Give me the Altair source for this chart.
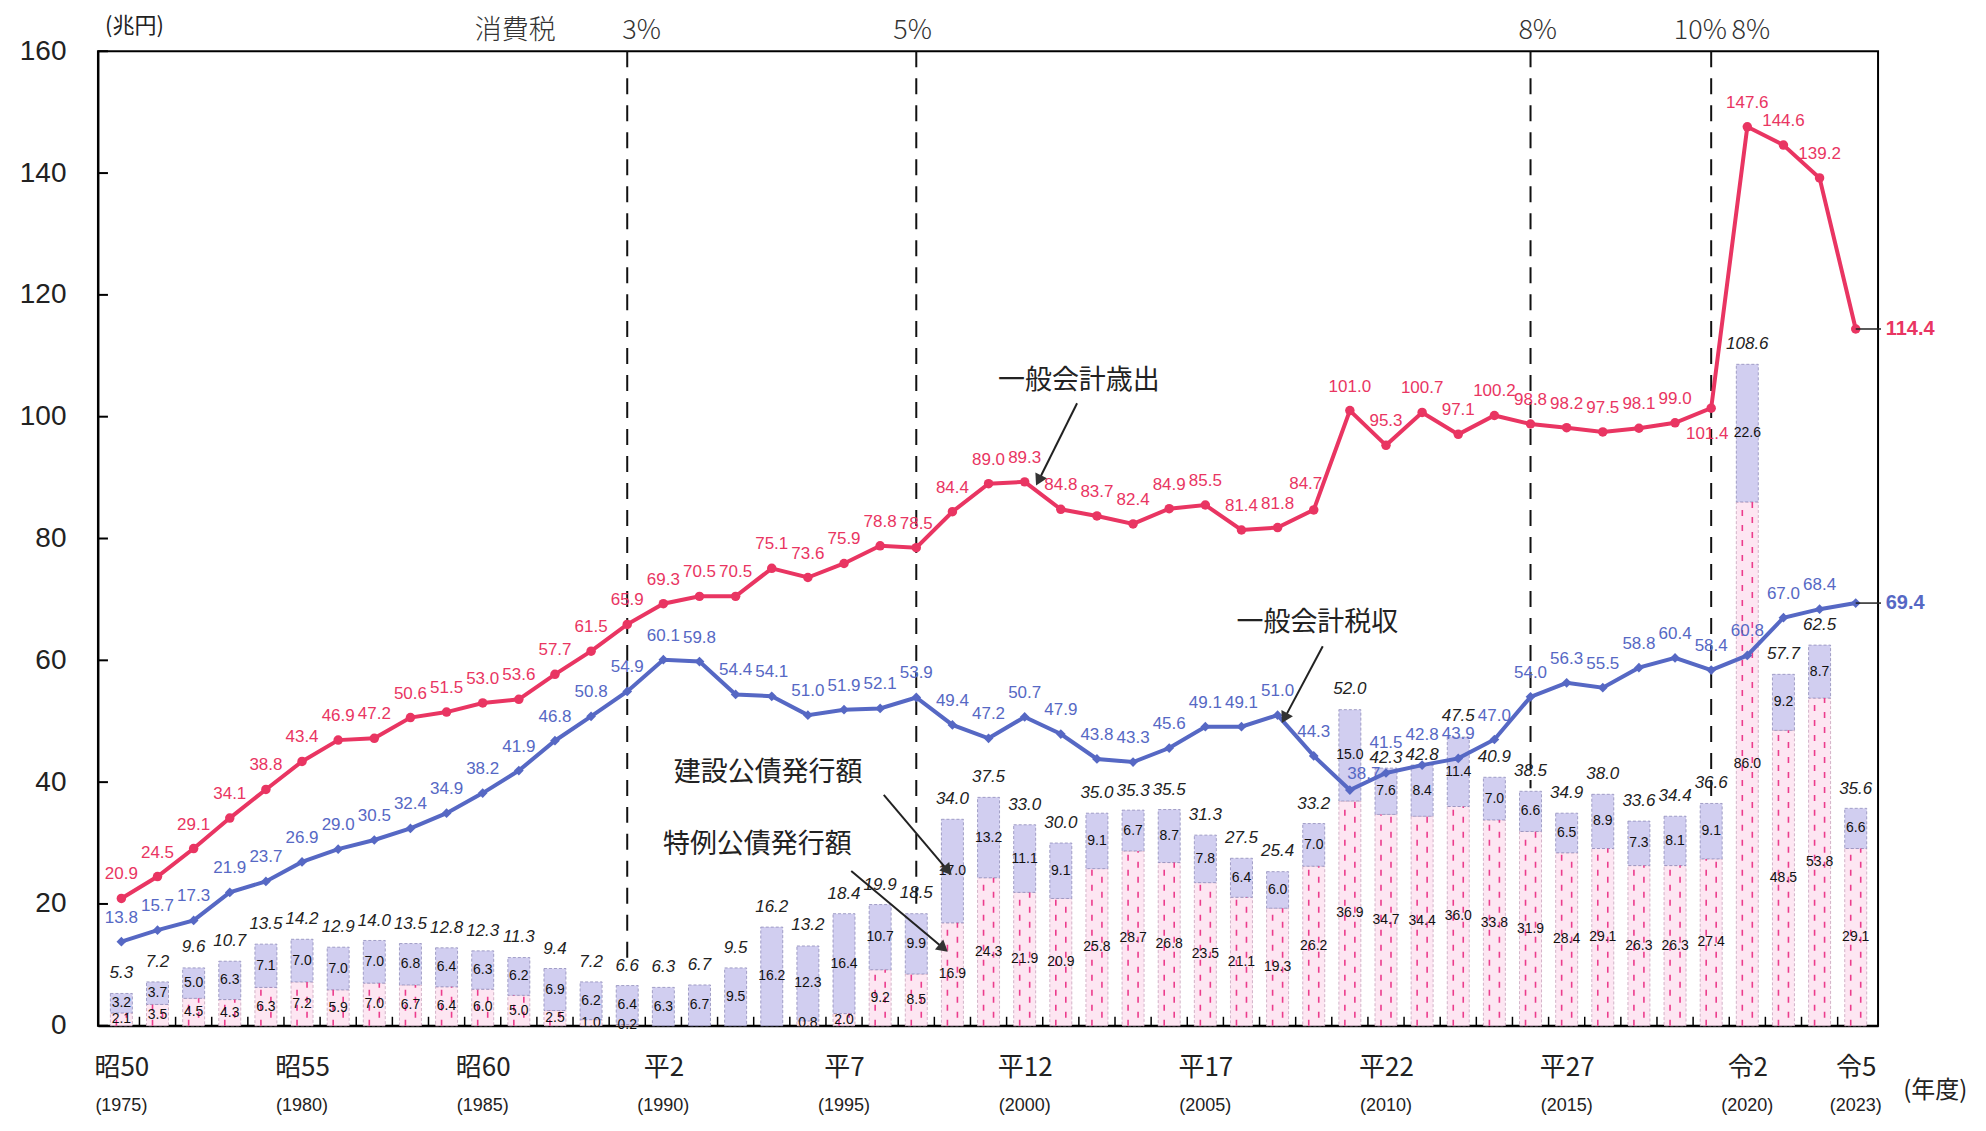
import math
import altair as alt
import pandas as pd

# ---------------- data ----------------
years = list(range(1975, 2024))
expenditure = [20.9, 24.5, 29.1, 34.1, 38.8, 43.4, 46.9, 47.2, 50.6, 51.5,
               53.0, 53.6, 57.7, 61.5, 65.9, 69.3, 70.5, 70.5, 75.1, 73.6,
               75.9, 78.8, 78.5, 84.4, 89.0, 89.3, 84.8, 83.7, 82.4, 84.9,
               85.5, 81.4, 81.8, 84.7, 101.0, 95.3, 100.7, 97.1, 100.2, 98.8,
               98.2, 97.5, 98.1, 99.0, 101.4, 147.6, 144.6, 139.2, 114.4]
tax_revenue = [13.8, 15.7, 17.3, 21.9, 23.7, 26.9, 29.0, 30.5, 32.4, 34.9,
               38.2, 41.9, 46.8, 50.8, 54.9, 60.1, 59.8, 54.4, 54.1, 51.0,
               51.9, 52.1, 53.9, 49.4, 47.2, 50.7, 47.9, 43.8, 43.3, 45.6,
               49.1, 49.1, 51.0, 44.3, 38.7, 41.5, 42.8, 43.9, 47.0, 54.0,
               56.3, 55.5, 58.8, 60.4, 58.4, 60.8, 67.0, 68.4, 69.4]
bond_total = [5.3, 7.2, 9.6, 10.7, 13.5, 14.2, 12.9, 14.0, 13.5, 12.8,
              12.3, 11.3, 9.4, 7.2, 6.6, 6.3, 6.7, 9.5, 16.2, 13.2,
              18.4, 19.9, 18.5, 34.0, 37.5, 33.0, 30.0, 35.0, 35.3, 35.5,
              31.3, 27.5, 25.4, 33.2, 52.0, 42.3, 42.8, 47.5, 40.9, 38.5,
              34.9, 38.0, 33.6, 34.4, 36.6, 108.6, 57.7, 62.5, 35.6]
construction_bonds = [3.2, 3.7, 5.0, 6.3, 7.1, 7.0, 7.0, 7.0, 6.8, 6.4,
                      6.3, 6.2, 6.9, 6.2, 6.4, 6.3, 6.7, 9.5, 16.2, 12.3,
                      16.4, 10.7, 9.9, 17.0, 13.2, 11.1, 9.1, 9.1, 6.7, 8.7,
                      7.8, 6.4, 6.0, 7.0, 15.0, 7.6, 8.4, 11.4, 7.0, 6.6,
                      6.5, 8.9, 7.3, 8.1, 9.1, 22.6, 9.2, 8.7, 6.6]
special_bonds = [2.1, 3.5, 4.5, 4.3, 6.3, 7.2, 5.9, 7.0, 6.7, 6.4,
                 6.0, 5.0, 2.5, 1.0, 0.2, 0.0, 0.0, 0.0, 0.0, 0.8,
                 2.0, 9.2, 8.5, 16.9, 24.3, 21.9, 20.9, 25.8, 28.7, 26.8,
                 23.5, 21.1, 19.3, 26.2, 36.9, 34.7, 34.4, 36.0, 33.8, 31.9,
                 28.4, 29.1, 26.3, 26.3, 27.4, 86.0, 48.5, 53.8, 29.1]

tick_years = [1975, 1980, 1985, 1990, 1995, 2000, 2005, 2010, 2015, 2020, 2023]
era_names = ["昭50", "昭55", "昭60", "平2", "平7", "平12", "平17", "平22", "平27", "令2", "令5"]
yticks = [0, 20, 40, 60, 80, 100, 120, 140, 160]

tax_rate_years = [1989, 1997, 2014, 2019]
tax_rate_line_bottoms = [10, 20, 39, 37]
top_note_texts = ["消費税", "3%", "5%", "8%", "10%", "8%"]
top_note_years = [1985.9, 1989.4, 1996.9, 2014.2, 2018.7, 2020.1]

callout_texts = ["一般会計歳出", "一般会計税収", "建設公債発行額", "特例公債発行額"]
callout_x = [2001.5, 2008.1, 1992.9, 1992.6]
callout_y = [105.8, 66.1, 41.5, 29.7]
arrow_from_x = [2001.45, 2008.25, 1996.1, 1995.2]
arrow_from_y = [102.2, 62.3, 37.9, 25.4]
arrow_to_x = [2000.3, 2007.1, 1998.0, 1997.9]
arrow_to_y = [88.5, 49.5, 24.6, 12.0]

# ---------------- geometry / style ----------------
W, H = 1781, 975
XDOM = [1974.49, 2023.48]
YDOM = [0, 160]
RED = "#e93562"
BLUE = "#5668c4"
LAV = "#d1cef0"
PINK_BG = "#fde6f2"
PINK_DASH = "#ec3c8c"
NUMFONT = "Liberation Sans"
JPFONT = "Noto Sans CJK JP"

df = pd.DataFrame({
    "year": years, "exp": expenditure, "tax": tax_revenue, "total": bond_total,
    "cons": construction_bonds, "spec": special_bonds,
})
df["zero"] = 0.0
df["cons_lo"] = df["spec"]
df["cons_hi"] = df["spec"] + df["cons"]
df["cons_mid"] = df["spec"] + df["cons"] / 2
df["spec_mid"] = df["spec"] / 2
df["edge"] = df["year"] + 0.5
df["lead_end"] = df["year"] + 0.7

ticks_df = pd.DataFrame({"year": tick_years, "era": era_names,
                         "ylab": [f"({y})" for y in tick_years]})
ytick_df = pd.DataFrame({"v": yticks})
rate_df = pd.DataFrame({"year": tax_rate_years, "top": [160] * len(tax_rate_years),
                        "bottom": tax_rate_line_bottoms})
note_df = pd.DataFrame({"x": top_note_years, "t": top_note_texts})
callout_df = pd.DataFrame({"x": callout_x, "y": callout_y, "t": callout_texts})

ppx = W / (XDOM[1] - XDOM[0])
ppy = H / (YDOM[1] - YDOM[0])
arrows = []
for fx, fy, tx, ty in zip(arrow_from_x, arrow_from_y, arrow_to_x, arrow_to_y):
    dx = (tx - fx) * ppx
    dy = -(ty - fy) * ppy
    ln = math.hypot(dx, dy)
    ux, uy = dx / ln, dy / ln
    ang = math.degrees(math.atan2(dx, -dy)) % 360
    hx = tx - 7 * ux / ppx
    hy = ty + 7 * uy / ppy
    arrows.append({"fx": fx, "fy": fy, "hx": hx, "hy": hy, "ang": ang})
arrow_df = pd.DataFrame(arrows)

xscale = alt.Scale(domain=XDOM, nice=False, zero=False)
yscale = alt.Scale(domain=YDOM, nice=False, zero=False)
label_expr = " : ".join(f"datum.value == {y} ? '{n}'" for y, n in zip(tick_years, era_names)) + " : ''"
xaxis = alt.Axis(values=tick_years, labelExpr=label_expr, title=None, grid=False, ticks=False,
                 domain=True, domainColor="black", domainWidth=2, labelFontSize=26,
                 labelFont=JPFONT, labelColor="#222", labelPadding=29, labelFlush=False,
                 labelOverlap=False)
yaxis = alt.Axis(values=yticks, title="(兆円)", titleAngle=0, titleX=36, titleY=-26,
                 titleFontSize=22, titleFont=JPFONT, titleFontWeight="normal", titleColor="#222",
                 titleAlign="center", titleBaseline="middle",
                 labelFontSize=28, labelFont=NUMFONT, labelColor="#222", labelPadding=32,
                 ticks=False, grid=False, domain=True, domainColor="black", domainWidth=2)


def X(f):
    return alt.X(f, type="quantitative", scale=xscale, axis=xaxis)


def Y(f):
    return alt.Y(f, type="quantitative", scale=yscale, axis=yaxis)


base = alt.Chart(df)

spec_bars = base.transform_filter("datum.spec > 0").mark_bar(
    size=22, color=PINK_BG, stroke="#c9a3bd", strokeWidth=0.8, strokeDash=[3, 2]
).encode(x=X("year"), y=Y("zero"), y2="spec")
spec_dash_l = base.transform_filter("datum.spec > 1").mark_rule(
    color=PINK_DASH, strokeWidth=1.6, strokeDash=[6, 9], xOffset=-5
).encode(x=X("year"), y=Y("zero"), y2="spec")
spec_dash_r = base.transform_filter("datum.spec > 1").mark_rule(
    color=PINK_DASH, strokeWidth=1.6, strokeDash=[6, 9], strokeDashOffset=7, xOffset=5
).encode(x=X("year"), y=Y("zero"), y2="spec")
cons_bars = base.mark_bar(
    size=22, color=LAV, stroke="#8f8cba", strokeWidth=0.8, strokeDash=[3, 2]
).encode(x=X("year"), y=Y("cons_lo"), y2="cons_hi")

x_ticks = base.transform_filter(f"datum.year < {years[-1]}").mark_rule(
    color="black", strokeWidth=1.5
).encode(x=X("edge"), y=alt.value(H), y2=alt.value(H - 9))
y_ticks = alt.Chart(ytick_df).mark_rule(color="black", strokeWidth=2).encode(
    y=Y("v"), x=alt.value(0), x2=alt.value(10))

rate_lines = alt.Chart(rate_df).mark_rule(
    color="#111", strokeWidth=2, strokeDash=[16, 11]
).encode(x=X("year"), y=Y("top"), y2="bottom")
notes = alt.Chart(note_df).mark_text(
    font=JPFONT, fontSize=27, color="#333", fontWeight=300, baseline="middle"
).encode(x=X("x"), y=alt.value(-20), text="t:N")

red_line = base.mark_line(color=RED, strokeWidth=4).encode(x=X("year"), y=Y("exp"))
red_pts = base.mark_point(shape="circle", filled=True, size=90, color=RED, opacity=1).encode(
    x=X("year"), y=Y("exp"))
blue_line = base.mark_line(color=BLUE, strokeWidth=4).encode(x=X("year"), y=Y("tax"))
blue_pts = base.mark_point(shape="diamond", filled=True, size=95, color=BLUE, opacity=1).encode(
    x=X("year"), y=Y("tax"))

red_lab = base.transform_filter(
    f"datum.year != 2019 && datum.year != 2008 && datum.year != {years[-1]}").mark_text(
    color=RED, fontSize=17, font=NUMFONT, dy=-24
).encode(x=X("year"), y=Y("exp"), text=alt.Text("exp:Q", format=".1f"))
red_lab_low = base.transform_filter("datum.year == 2019").mark_text(
    color=RED, fontSize=17, font=NUMFONT, dy=26, dx=-4
).encode(x=X("year"), y=Y("exp"), text=alt.Text("exp:Q", format=".1f"))
red_lab_left = base.transform_filter("datum.year == 2008").mark_text(
    color=RED, fontSize=17, font=NUMFONT, dy=-26, dx=-8
).encode(x=X("year"), y=Y("exp"), text=alt.Text("exp:Q", format=".1f"))
blue_lab = base.transform_filter(
    f"datum.year != 2009 && datum.year != 2010 && datum.year != 2011 && datum.year != {years[-1]}").mark_text(
    color=BLUE, fontSize=17, font=NUMFONT, dy=-24
).encode(x=X("year"), y=Y("tax"), text=alt.Text("tax:Q", format=".1f"))
blue_lab_high = base.transform_filter("datum.year == 2010 || datum.year == 2011").mark_text(
    color=BLUE, fontSize=17, font=NUMFONT, dy=-30
).encode(x=X("year"), y=Y("tax"), text=alt.Text("tax:Q", format=".1f"))
blue_lab_right = base.transform_filter("datum.year == 2009").mark_text(
    color=BLUE, fontSize=17, font=NUMFONT, dy=-16, dx=14
).encode(x=X("year"), y=Y("tax"), text=alt.Text("tax:Q", format=".1f"))

last = base.transform_filter(f"datum.year == {years[-1]}")
red_lead = last.mark_rule(color="#222", strokeWidth=1.5).encode(x=X("year"), x2="lead_end", y=Y("exp"))
blue_lead = last.mark_rule(color="#222", strokeWidth=1.5).encode(x=X("year"), x2="lead_end", y=Y("tax"))
red_end = last.mark_text(color=RED, fontSize=20, fontWeight="bold", font=NUMFONT, align="left", dx=30).encode(
    x=X("year"), y=Y("exp"), text=alt.Text("exp:Q", format=".1f"))
blue_end = last.mark_text(color=BLUE, fontSize=20, fontWeight="bold", font=NUMFONT, align="left", dx=30).encode(
    x=X("year"), y=Y("tax"), text=alt.Text("tax:Q", format=".1f"))

total_lab = base.transform_filter("datum.year != 2010 && datum.year != 2011").mark_text(
    fontStyle="italic", fontSize=17, font=NUMFONT, color="#222", dy=-20).encode(
    x=X("year"), y=Y("total"), text=alt.Text("total:Q", format=".1f"))
total_lab_low = base.transform_filter("datum.year == 2010 || datum.year == 2011").mark_text(
    fontStyle="italic", fontSize=17, font=NUMFONT, color="#222", dy=-10).encode(
    x=X("year"), y=Y("total"), text=alt.Text("total:Q", format=".1f"))
cons_lab = base.mark_text(fontSize=14, font=NUMFONT, color="#111").encode(
    x=X("year"), y=Y("cons_mid"), text=alt.Text("cons:Q", format=".1f"))
spec_lab = base.transform_filter("datum.spec > 0").mark_text(fontSize=14, font=NUMFONT, color="#111").encode(
    x=X("year"), y=Y("spec_mid"), text=alt.Text("spec:Q", format=".1f"))

year_lab = alt.Chart(ticks_df).mark_text(fontSize=18, font=NUMFONT, color="#222").encode(
    x=X("year"), y=alt.value(H + 80), text="ylab:N")
nendo = alt.Chart(pd.DataFrame({"x": [2025.2], "t": ["(年度)"]})).mark_text(
    fontSize=24, font=JPFONT, color="#222").encode(x=X("x"), y=alt.value(H + 65), text="t:N")

callouts = alt.Chart(callout_df).mark_text(fontSize=27, font=JPFONT, color="#222").encode(
    x=X("x"), y=Y("y"), text="t:N")
arrow_lines = alt.Chart(arrow_df).mark_rule(color="#222", strokeWidth=2).encode(
    x=X("fx"), y=Y("fy"), x2="hx", y2="hy")
arrow_heads = alt.Chart(arrow_df).mark_point(shape="triangle-up", filled=True, size=170,
                                             color="#333", opacity=1).encode(
    x=X("hx"), y=Y("hy"), angle=alt.Angle("ang:Q", scale=None))

chart = alt.layer(
    spec_bars, cons_bars, spec_dash_l, spec_dash_r, x_ticks, y_ticks, rate_lines, notes,
    red_line, blue_line, red_pts, blue_pts,
    total_lab, total_lab_low, cons_lab, spec_lab,
    red_lab, red_lab_low, red_lab_left, blue_lab, blue_lab_high, blue_lab_right,
    red_lead, blue_lead, red_end, blue_end,
    year_lab, nendo, callouts, arrow_lines, arrow_heads,
).properties(
    width=W, height=H,
    padding={"left": 90, "top": 43, "right": 100, "bottom": 90},
    autosize=alt.AutoSizeParams(type="none"),
).configure_view(stroke="black", strokeWidth=2)

chart.save("out.html", embed_options={"renderer": "svg", "actions": False})
